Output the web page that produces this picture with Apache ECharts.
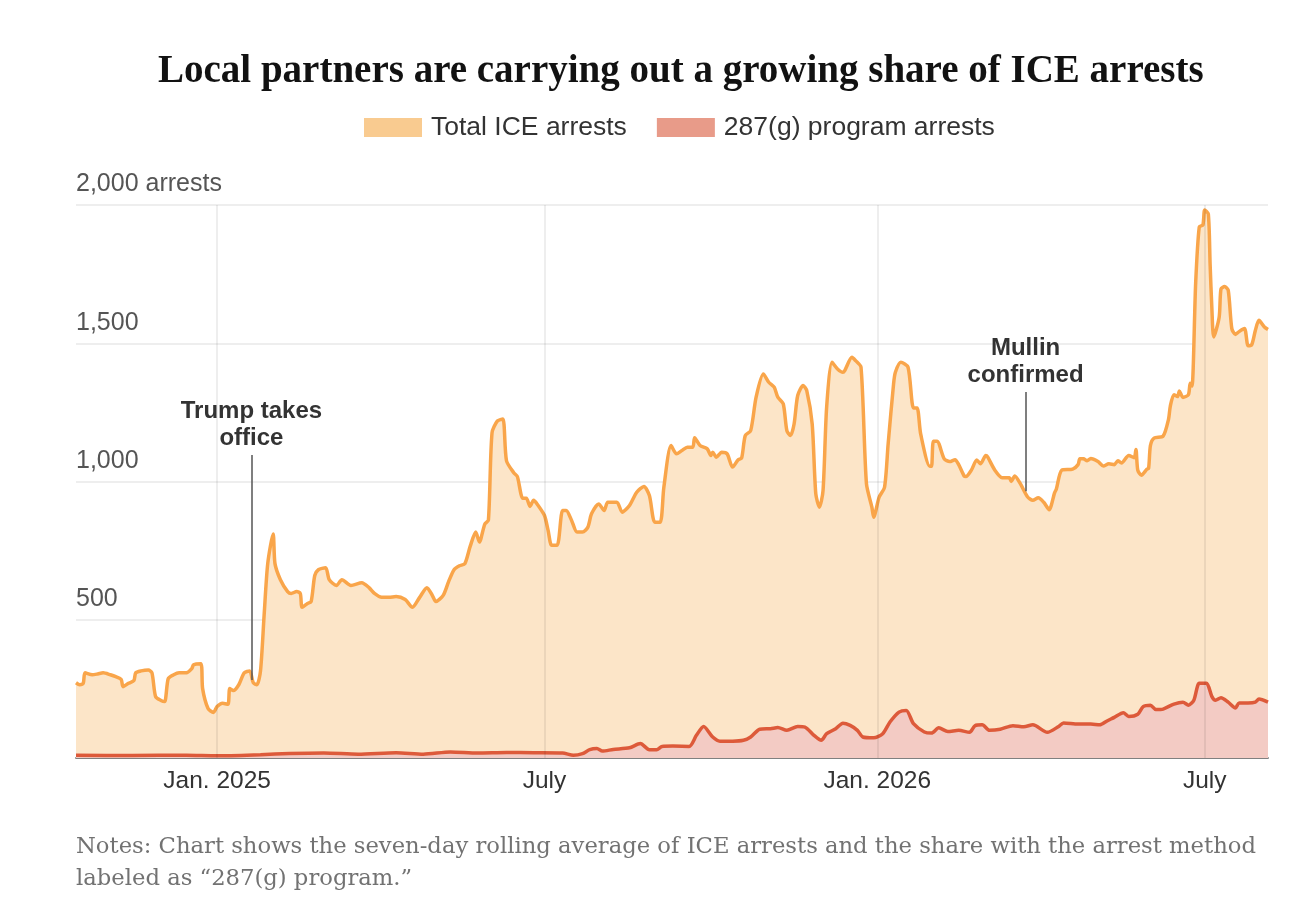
<!DOCTYPE html>
<html lang="en">
<head>
<meta charset="UTF-8">
<title>ICE arrests</title>
<script src="https://cdn.jsdelivr.net/npm/echarts@6/dist/echarts.min.js"></script>
<style>
  html, body { margin: 0; padding: 0; background: #fff; }
  #chart { width: 1314px; height: 908px; }
</style>
</head>
<body>
<div id="chart"></div>
<script>
// seven-day rolling average
var totalDates = [
  '2024-10-15','2024-10-17','2024-10-19','2024-10-20','2024-10-24','2024-10-27','2024-10-30','2024-11-03','2024-11-06','2024-11-09',
  '2024-11-10','2024-11-13','2024-11-16','2024-11-17','2024-11-20','2024-11-24','2024-11-26','2024-11-28','2024-12-01','2024-12-03',
  '2024-12-05','2024-12-08','2024-12-11','2024-12-15','2024-12-18','2024-12-19','2024-12-23','2024-12-24','2024-12-27','2024-12-30',
  '2025-01-01','2025-01-04','2025-01-07','2025-01-08','2025-01-10','2025-01-13','2025-01-16','2025-01-19','2025-01-21','2025-01-23',
  '2025-01-25','2025-01-27','2025-01-29','2025-02-01','2025-02-02','2025-02-05','2025-02-09','2025-02-11','2025-02-14','2025-02-16',
  '2025-02-17','2025-02-20','2025-02-22','2025-02-24','2025-02-26','2025-03-02','2025-03-04','2025-03-08','2025-03-11','2025-03-16',
  '2025-03-22','2025-03-26','2025-03-29','2025-04-02','2025-04-06','2025-04-10','2025-04-15','2025-04-19','2025-04-23','2025-04-27',
  '2025-04-30','2025-05-02','2025-05-06','2025-05-09','2025-05-12','2025-05-15','2025-05-18','2025-05-21','2025-05-24','2025-05-26',
  '2025-05-29','2025-05-31','2025-06-02','2025-06-05','2025-06-08','2025-06-10','2025-06-14','2025-06-16','2025-06-19','2025-06-21',
  '2025-06-23','2025-06-25','2025-06-27','2025-07-01','2025-07-03','2025-07-05','2025-07-08','2025-07-11','2025-07-13','2025-07-16',
  '2025-07-19','2025-07-22','2025-07-25','2025-07-27','2025-07-31','2025-08-03','2025-08-05','2025-08-10','2025-08-13','2025-08-17',
  '2025-08-21','2025-08-25','2025-08-28','2025-08-31','2025-09-03','2025-09-05','2025-09-09','2025-09-12','2025-09-15','2025-09-18',
  '2025-09-21','2025-09-22','2025-09-25','2025-09-29','2025-10-01','2025-10-02','2025-10-04','2025-10-07','2025-10-10','2025-10-13',
  '2025-10-16','2025-10-18','2025-10-20','2025-10-23','2025-10-26','2025-10-30','2025-11-02','2025-11-05','2025-11-07','2025-11-10',
  '2025-11-12','2025-11-14','2025-11-16','2025-11-18','2025-11-21','2025-11-23','2025-11-26','2025-11-28','2025-11-30','2025-12-02',
  '2025-12-04','2025-12-07','2025-12-10','2025-12-13','2025-12-14','2025-12-18','2025-12-20','2025-12-23','2025-12-26','2025-12-29',
  '2025-12-30','2026-01-02','2026-01-05','2026-01-07','2026-01-10','2026-01-11','2026-01-14','2026-01-18','2026-01-21','2026-01-23',
  '2026-01-25','2026-01-30','2026-01-31','2026-02-01','2026-02-03','2026-02-07','2026-02-10','2026-02-13','2026-02-15','2026-02-18',
  '2026-02-19','2026-02-22','2026-02-25','2026-02-27','2026-03-02','2026-03-03','2026-03-07','2026-03-11','2026-03-15','2026-03-16',
  '2026-03-18','2026-03-21','2026-03-25','2026-03-28','2026-03-31','2026-04-03','2026-04-06','2026-04-09','2026-04-10','2026-04-13',
  '2026-04-19','2026-04-22','2026-04-23','2026-04-25','2026-04-27','2026-04-29','2026-05-03','2026-05-06','2026-05-09','2026-05-12',
  '2026-05-14','2026-05-16','2026-05-20','2026-05-23','2026-05-24','2026-05-25','2026-05-27','2026-05-30','2026-05-31','2026-06-01',
  '2026-06-03','2026-06-08','2026-06-11','2026-06-12','2026-06-14','2026-06-16','2026-06-17','2026-06-19','2026-06-22','2026-06-23',
  '2026-06-24','2026-06-26','2026-06-28','2026-06-30','2026-07-01','2026-07-03','2026-07-04','2026-07-05','2026-07-06','2026-07-09',
  '2026-07-10','2026-07-12','2026-07-14','2026-07-16','2026-07-18','2026-07-20','2026-07-23','2026-07-25','2026-07-27','2026-07-29',
  '2026-07-31','2026-08-03','2026-08-05'
];
var totalValues = [
  272,265,270,308,301,304,308,301,294,284,
  258,270,280,308,315,318,308,222,208,204,
  287,301,308,308,323,337,341,251,179,165,
  186,198,194,251,244,265,308,315,272,265,
  315,516,703,810,703,645,602,595,602,595,
  545,559,566,660,681,688,645,624,645,624,
  634,616,595,581,581,584,573,545,581,616,
  588,566,588,638,681,695,703,767,817,781,
  846,860,1176,1219,1226,1075,1032,1018,939,939,
  910,932,918,877,823,769,769,895,895,859,
  817,817,835,883,919,895,925,925,889,913,
  961,982,949,853,853,979,1130,1100,1112,1124,
  1124,1158,1130,1118,1094,1106,1088,1106,1100,1052,
  1078,1085,1166,1184,1305,1389,1359,1341,1305,1281,
  1184,1166,1208,1311,1347,1329,1208,955,907,967,
  1269,1431,1407,1395,1401,1449,1437,1413,992,907,
  871,943,979,1136,1353,1395,1431,1413,1266,1266,
  1171,1055,1055,1146,1146,1082,1072,1079,1061,1020,
  1018,1041,1078,1064,1094,1089,1041,1014,1014,1000,
  1020,993,945,932,941,925,898,959,973,1041,
  1045,1061,1082,1082,1075,1083,1072,1056,1064,1061,
  1075,1067,1094,1086,1116,1041,1023,1044,1048,1130,
  1157,1164,1225,1273,1314,1307,1327,1304,1314,1355,
  1345,1716,1921,1928,1982,1968,1785,1621,1523,1594,
  1696,1705,1692,1553,1532,1542,1553,1491,1495,1546,
  1583,1559,1550
];

var programDates = [
  '2024-10-15','2024-11-15','2024-12-15','2025-01-01','2025-01-25','2025-02-10','2025-03-01','2025-03-20','2025-04-10','2025-04-25',
  '2025-05-10','2025-05-25','2025-06-10','2025-06-25','2025-07-11','2025-07-17','2025-07-22','2025-07-26','2025-07-30','2025-08-02',
  '2025-08-08','2025-08-17','2025-08-23','2025-08-28','2025-09-01','2025-09-04','2025-09-10','2025-09-19','2025-09-23','2025-09-27',
  '2025-10-02','2025-10-06','2025-10-13','2025-10-19','2025-10-23','2025-10-28','2025-11-03','2025-11-07','2025-11-12','2025-11-18',
  '2025-11-22','2025-11-27','2025-12-01','2025-12-04','2025-12-09','2025-12-13','2025-12-17','2025-12-21','2025-12-24','2025-12-30',
  '2026-01-04','2026-01-08','2026-01-13','2026-01-17','2026-01-21','2026-01-27','2026-01-31','2026-02-04','2026-02-09','2026-02-15',
  '2026-02-21','2026-02-24','2026-02-28','2026-03-04','2026-03-10','2026-03-17','2026-03-23','2026-03-28','2026-04-05','2026-04-11',
  '2026-04-14','2026-04-22','2026-04-29','2026-05-04','2026-05-08','2026-05-12','2026-05-17','2026-05-20','2026-05-25','2026-05-28',
  '2026-06-01','2026-06-04','2026-06-08','2026-06-14','2026-06-19','2026-06-22','2026-06-25','2026-06-28','2026-07-02','2026-07-05',
  '2026-07-07','2026-07-10','2026-07-14','2026-07-18','2026-07-20','2026-07-25','2026-07-29','2026-07-31','2026-08-05'
];
var programValues = [
  10,9,10,8,12,16,18,14,19,14,
  22,18,20,19,18,10,16,30,34,25,
  31,37,52,30,30,42,43,42,82,114,
  76,61,61,64,76,104,106,110,100,114,
  112,82,64,88,106,126,118,100,76,73,
  88,130,166,172,124,94,90,109,96,100,
  93,117,120,100,104,117,113,120,93,113,
  127,123,123,120,134,147,164,150,158,186,
  191,175,177,195,202,191,209,270,270,222,
  209,218,202,181,199,199,202,213,202
];

var xTicks = ['2025-01-01', '2025-07-01', '2026-01-01', '2026-07-01'];
var xTickLabels = ['Jan. 2025', 'July', 'Jan. 2026', 'July'];

var annotations = [
  { date: '2025-01-20', from: 282, to: 1096, text: 'Trump takes\noffice' },
  { date: '2026-03-24', from: 965, to: 1324, text: 'Mullin\nconfirmed' }
];

var sans = '"Liberation Sans", Arial, sans-serif';

function ts(d) {
  var p = d.split('-');
  return Date.UTC(+p[0], +p[1] - 1, +p[2]);
}
function pairs(dates, values) {
  return dates.map(function (d, i) { return [ts(d), values[i]]; });
}
var tickStamps = xTicks.map(ts);

var chart = echarts.init(document.getElementById('chart'));

chart.setOption({
  backgroundColor: '#fff',
  animation: false,
  title: {
    text: 'Local partners are carrying out a growing share of ICE arrests',
    left: 153,
    top: 47,
    textStyle: {
      fontFamily: '"Liberation Serif", "DejaVu Serif", serif',
      fontWeight: 'bold',
      fontSize: 39,
      color: '#121212'
    }
  },
  legend: {
    top: 109,
    left: 359,
    itemWidth: 58,
    itemHeight: 19,
    itemGap: 30,
    textStyle: { fontFamily: sans, fontSize: 26.5, color: '#333', padding: [0, 0, 0, 4] },
    data: [
      { name: 'Total ICE arrests', icon: 'rect', itemStyle: { color: '#f9cb90' } },
      { name: '287(g) program arrests', icon: 'rect', itemStyle: { color: '#e89b89' } }
    ]
  },
  grid: { left: 76, right: 46, top: 205, bottom: 150 },
  xAxis: {
    type: 'value',
    min: ts('2024-10-15'),
    max: ts('2026-08-05'),
    axisLine: { show: true, onZero: false, lineStyle: { color: '#8a8a8a', width: 2 } },
    axisTick: { show: false },
    splitLine: { show: false },
    axisLabel: {
      customValues: tickStamps,
      fontFamily: sans,
      fontSize: 24.5,
      color: '#333',
      margin: 11,
      formatter: function (v) {
        var i = tickStamps.indexOf(v);
        return i >= 0 ? xTickLabels[i] : '';
      }
    }
  },
  yAxis: {
    type: 'value',
    min: 0,
    max: 2000,
    interval: 500,
    z: 3,
    axisLine: { show: false },
    axisTick: { show: false },
    splitLine: { lineStyle: { color: 'rgba(0,0,0,0.09)', width: 1.5 } },
    axisLabel: {
      inside: true,
      margin: 0,
      verticalAlign: 'bottom',
      padding: [0, 0, 8, 0],
      fontFamily: sans,
      fontSize: 25,
      color: '#555',
      formatter: function (v) {
        if (v === 0) return '';
        if (v === 2000) return '2,000 arrests';
        return v.toLocaleString('en-US');
      }
    }
  },
  series: [
    {
      name: 'Total ICE arrests',
      type: 'line',
      data: pairs(totalDates, totalValues),
      showSymbol: false,
      smooth: 0.25,
      lineStyle: { color: '#f9a54a', width: 3.5 },
      itemStyle: { color: '#f9a54a' },
      areaStyle: { color: '#fce5c8', opacity: 1 },
      markLine: {
        silent: true,
        symbol: 'none',
        lineStyle: { color: '#555', width: 1.5, type: 'solid' },
        label: {
          show: true,
          position: 'end',
          distance: 3,
          fontFamily: sans,
          fontWeight: 'bold',
          fontSize: 24,
          lineHeight: 27,
          color: '#333',
          formatter: function (p) { return p.data.text; }
        },
        data: annotations.map(function (a) {
          return [
            { coord: [ts(a.date), a.from], text: a.text },
            { coord: [ts(a.date), a.to], text: a.text }
          ];
        })
      }
    },
    {
      name: '287(g) program arrests',
      type: 'line',
      data: pairs(programDates, programValues),
      showSymbol: false,
      smooth: 0.25,
      lineStyle: { color: '#dd5a3a', width: 3.5 },
      itemStyle: { color: '#dd5a3a' },
      areaStyle: { color: '#f3cbc4', opacity: 1 },
      markLine: {
        silent: true,
        symbol: 'none',
        label: { show: false },
        lineStyle: { color: 'rgba(0,0,0,0.09)', width: 1.5, type: 'solid' },
        data: tickStamps.map(function (t) { return { xAxis: t }; })
      }
    }
  ],
  graphic: [
    {
      type: 'text',
      left: 76,
      top: 831,
      style: {
        text: 'Notes: Chart shows the seven-day rolling average of ICE arrests and the share with the arrest method\nlabeled as \u201c287(g) program.\u201d',
        fontFamily: '"DejaVu Serif", serif',
        fontSize: 22.7,
        lineHeight: 32,
        fill: '#727272'
      }
    }
  ]
});
</script>
</body>
</html>
